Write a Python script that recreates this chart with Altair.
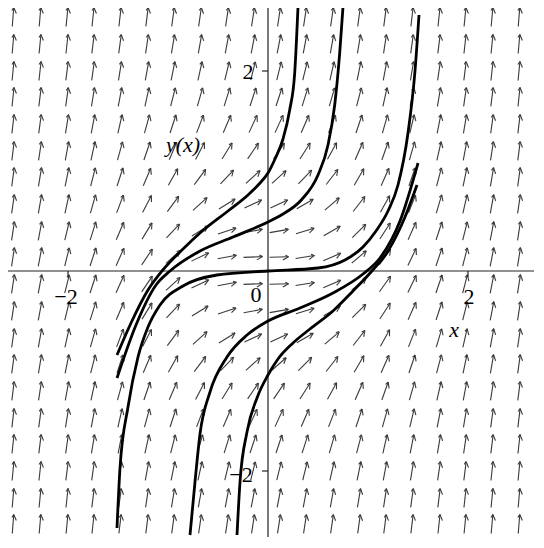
import altair as alt
import numpy as np
import pandas as pd

# Direction-field grid
grid_x = [-2.55, -2.28, -2.01, -1.75, -1.48, -1.21, -0.95, -0.68, -0.41, -0.15,
          0.11, 0.37, 0.64, 0.91, 1.17, 1.44, 1.71, 1.97, 2.24, 2.51]
grid_y = [2.54, 2.27, 2.00, 1.74, 1.47, 1.20, 0.94, 0.67, 0.40, 0.14,
          -0.13, -0.40, -0.67, -0.93, -1.20, -1.47, -1.73, -2.00, -2.27, -2.53]

# Solution curves
c0_x = [-1.51, -1.48, -1.40, -1.30, -1.20, -1.08, -0.85, -0.51, 0.0, 0.5, 0.77, 0.95, 1.08, 1.20, 1.30, 1.40, 1.47, 1.51]
c0_y = [-2.57, -1.97, -1.36, -0.86, -0.56, -0.34, -0.15, -0.04, 0.0, 0.03, 0.11, 0.24, 0.40, 0.60, 0.86, 1.38, 2.00, 2.56]

c1_x = [-1.51, -1.37, -1.20, -1.06, -0.85, -0.68, -0.40, -0.20, -0.08, 0.0, 0.07, 0.15, 0.217, 0.267, 0.30]
c1_y = [-0.84, -0.52, -0.19, 0.0, 0.22, 0.38, 0.60, 0.76, 0.88, 0.98, 1.12, 1.32, 1.61, 1.98, 2.64]

c2_x = [-1.51, -1.32, -1.12, -0.98, -0.68, -0.35, 0.0, 0.133, 0.333, 0.50, 0.60, 0.667, 0.717, 0.75]
c2_y = [-1.07, -0.54, -0.14, 0.0, 0.20, 0.34, 0.49, 0.56, 0.71, 0.96, 1.26, 1.66, 2.18, 2.64]

c3_x = [-0.78, -0.73, -0.68, -0.58, -0.41, -0.21, 0.0, 0.32, 0.65, 0.95, 1.12, 1.32, 1.50]
c3_y = [-2.64, -2.11, -1.63, -1.21, -0.86, -0.64, -0.50, -0.37, -0.22, -0.03, 0.13, 0.50, 1.08]

c4_x = [-0.31, -0.28, -0.21, -0.11, 0.0, 0.10, 0.25, 0.42, 0.65, 0.85, 1.03, 1.20, 1.37, 1.49]
c4_y = [-2.64, -2.11, -1.61, -1.27, -1.04, -0.88, -0.72, -0.58, -0.40, -0.20, -0.01, 0.20, 0.54, 0.86]

curves = [c0_x, c1_x, c2_x, c3_x, c4_x]
curves_y = [c0_y, c1_y, c2_y, c3_y, c4_y]

# Axis labels
num_labels = ["−2", "2", "0", "2", "−2"]
num_lx = [-2.02, 2.01, -0.12, -0.20, -0.27]
num_ly = [-0.26, -0.26, -0.24, 1.99, -2.04]
ital_labels = ["x", "y(x)"]
ital_lx = [1.86, -0.85]
ital_ly = [-0.59, 1.26]

XD = [-2.60, 2.66]
YD = [-2.66, 2.63]


def slope(x, y):
    return x * x + y * y


L = 0.19
ang = np.radians(28)
segs = []
for gx in grid_x:
    for gy in grid_y:
        s = slope(gx, gy)
        n = np.hypot(1.0, s)
        dx, dy = 1.0 / n, s / n
        x0, y0 = gx - dx * L / 2, gy - dy * L / 2
        x1, y1 = gx + dx * L / 2, gy + dy * L / 2
        segs.append({"x": x0, "y": y0, "x2": x1, "y2": y1})
        vx, vy = -dx, -dy
        for t, h in ((ang, 0.065), (-ang, 0.035)):
            bx = vx * np.cos(t) - vy * np.sin(t)
            by = vx * np.sin(t) + vy * np.cos(t)
            segs.append({"x": x1, "y": y1, "x2": x1 + bx * h, "y2": y1 + by * h})
arrows = pd.DataFrame(segs)

rows = []
for k, (cx, cy) in enumerate(zip(curves, curves_y)):
    for i, (a, b) in enumerate(zip(cx, cy)):
        rows.append({"x": a, "y": b, "curve": f"c{k}", "order": i})
curve_df = pd.DataFrame(rows)

axis_df = pd.DataFrame([
    {"x": XD[0], "y": 0.0, "x2": XD[1], "y2": 0.0},
    {"x": 0.0, "y": YD[0], "x2": 0.0, "y2": YD[1]},
    {"x": -2.0, "y": 0.0, "x2": -2.0, "y2": -0.06},
    {"x": 2.0, "y": 0.0, "x2": 2.0, "y2": -0.06},
    {"x": 0.0, "y": 2.0, "x2": -0.06, "y2": 2.0},
    {"x": 0.0, "y": -2.0, "x2": -0.06, "y2": -2.0},
])

num_df = pd.DataFrame({"x": num_lx, "y": num_ly, "t": num_labels})
ital_df = pd.DataFrame({"x": ital_lx, "y": ital_ly, "t": ital_labels})

xs = alt.Scale(domain=XD, nice=False, zero=False)
ys = alt.Scale(domain=YD, nice=False, zero=False)

field = alt.Chart(arrows).mark_rule(color="#3a3a3a", strokeWidth=1.1).encode(
    x=alt.X("x:Q", scale=xs, axis=None),
    y=alt.Y("y:Q", scale=ys, axis=None),
    x2="x2:Q", y2="y2:Q",
)

axes = alt.Chart(axis_df).mark_rule(color="#222222", strokeWidth=1.2).encode(
    x=alt.X("x:Q", scale=xs, axis=None),
    y=alt.Y("y:Q", scale=ys, axis=None),
    x2="x2:Q", y2="y2:Q",
)

lines = alt.Chart(curve_df).mark_line(
    color="black", strokeWidth=2.8, interpolate="monotone", clip=True
).encode(
    x=alt.X("x:Q", scale=xs, axis=None),
    y=alt.Y("y:Q", scale=ys, axis=None),
    detail="curve:N",
    order="order:Q",
)

nums = alt.Chart(num_df).mark_text(
    font="Liberation Serif", fontSize=22, color="black"
).encode(
    x=alt.X("x:Q", scale=xs, axis=None),
    y=alt.Y("y:Q", scale=ys, axis=None),
    text="t:N",
)

itals = alt.Chart(ital_df).mark_text(
    font="Liberation Serif", fontSize=22, fontStyle="italic", color="black"
).encode(
    x=alt.X("x:Q", scale=xs, axis=None),
    y=alt.Y("y:Q", scale=ys, axis=None),
    text="t:N",
)

chart = alt.layer(field, axes, lines, nums, itals).properties(
    width=526, height=529, padding=0, autosize=alt.AutoSizeParams(type="none"),
    background="white",
).configure_view(stroke=None)

chart.save("out.html", embed_options={"renderer": "svg", "actions": False})
